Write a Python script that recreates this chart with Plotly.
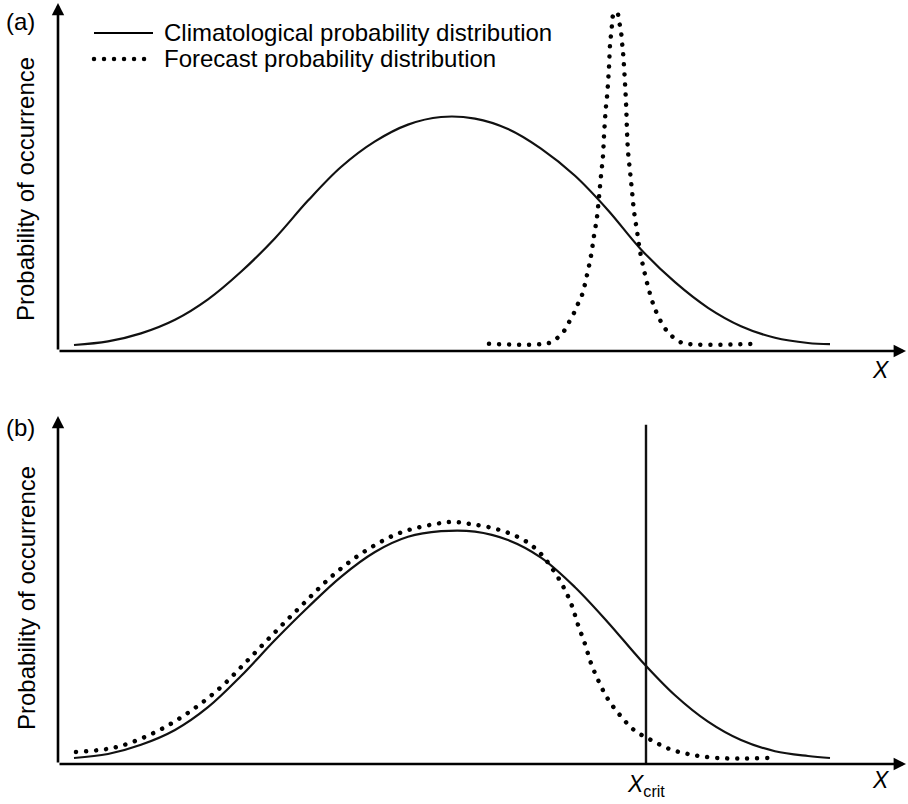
import plotly.graph_objects as go

# ---- data (x in arbitrary units along the variable axis, y in relative probability) ----
# Panel (a): climatological distribution
clim_a_x = [1.6, 5.0, 8.3, 11.7, 15.0, 18.3, 21.7, 25.0, 28.3, 31.7, 35.0, 38.3,
            41.7, 45.0, 48.3, 51.7, 55.0, 58.3, 61.7, 65.0, 68.3, 71.7, 75.0, 77.2]
clim_a_y = [1.5, 2.4, 4.4, 7.8, 12.9, 19.8, 28.2, 37.6, 46.0, 52.4, 56.6, 58.5,
            58.1, 55.5, 50.6, 43.8, 35.2, 25.4, 17.2, 10.8, 6.2, 3.3, 2.0, 1.7]

# Panel (a): sharp forecast distribution
fcst_a_x = [43.1, 49.1, 49.9, 50.6, 51.1, 51.6, 52.0, 52.4, 52.9, 53.3, 53.6, 53.9, 54.1,
            54.3, 54.5, 54.6, 54.8, 54.9, 55.1, 55.2, 55.3, 55.4, 55.5, 55.9, 56.1, 56.3,
            56.4, 56.5, 56.8, 56.9, 57.0, 57.2, 57.4, 57.6, 57.9, 58.2, 58.6, 59.1, 59.7,
            60.6, 61.2, 62.0, 62.9, 69.9]
fcst_a_y = [1.8, 2.0, 3.2, 5.0, 7.2, 9.5, 11.8, 14.0, 19.0, 23.8, 28.8, 33.5, 38.5,
            43.8, 48.8, 53.8, 61.2, 63.5, 71.0, 76.5, 79.0, 81.5, 83.8, 84.8, 82.5, 79.8,
            77.2, 74.8, 62.2, 55.0, 50.0, 45.0, 40.0, 35.0, 30.0, 25.0, 20.2, 15.2, 10.5,
            6.0, 4.2, 2.5, 1.8, 1.8]

# Panel (b): climatological distribution
clim_b_x = [1.6, 5.0, 8.3, 11.7, 15.0, 18.3, 21.7, 25.0, 28.3, 31.7, 35.0, 38.3,
            41.7, 45.0, 48.3, 51.7, 55.0, 58.3, 61.7, 65.0, 68.3, 71.7, 75.0, 77.2]
clim_b_y = [1.5, 2.5, 4.8, 8.5, 14.2, 22.0, 31.0, 39.2, 46.8, 53.0, 56.8, 58.2,
            58.1, 56.0, 51.6, 44.2, 35.4, 25.9, 17.2, 10.6, 6.0, 3.2, 2.0, 1.5]

# Panel (b): broad forecast distribution
fcst_b_x = [1.8, 5.8, 9.6, 13.0, 16.2, 19.0, 21.8, 24.6, 27.5, 30.7, 34.2, 38.2, 39.7,
            41.2, 43.1, 45.0, 46.9, 48.3, 49.6, 50.6, 51.4, 52.0, 52.7, 53.3, 54.1, 55.0,
            56.2, 57.6, 59.3, 61.1, 63.0, 66.0, 71.0]
fcst_b_y = [3.0, 4.2, 7.8, 12.8, 19.0, 26.0, 33.2, 40.2, 47.2, 53.2, 57.8, 60.2, 60.5,
            60.0, 59.2, 57.8, 55.5, 52.5, 48.2, 44.0, 39.5, 34.8, 30.0, 25.2, 20.5, 16.2,
            12.2, 8.5, 6.0, 3.8, 2.5, 1.5, 1.5]

# Critical threshold
x_crit = 58.8
crit_top = 84.8

# axis extents (arrow tips)
x_tip = 84.8
y_tip = 87.0

W, H = 908, 804
FONT = "Liberation Sans, Arial, Helvetica, sans-serif"
INK = "#111111"
DOT = "4px,6px"

fig = go.Figure()

fig.add_trace(go.Scatter(x=clim_a_x, y=clim_a_y, xaxis="x", yaxis="y", mode="lines",
                         line=dict(color=INK, width=2.2, shape="spline"), hoverinfo="skip"))
fig.add_trace(go.Scatter(x=fcst_a_x, y=fcst_a_y, xaxis="x", yaxis="y", mode="lines",
                         line=dict(color="black", width=4.5, shape="spline", dash=DOT),
                         hoverinfo="skip"))
fig.add_trace(go.Scatter(x=clim_b_x, y=clim_b_y, xaxis="x2", yaxis="y2", mode="lines",
                         line=dict(color=INK, width=2.2, shape="spline"), hoverinfo="skip"))
fig.add_trace(go.Scatter(x=fcst_b_x, y=fcst_b_y, xaxis="x2", yaxis="y2", mode="lines",
                         line=dict(color="black", width=4.5, shape="spline", dash=DOT),
                         hoverinfo="skip"))
fig.add_trace(go.Scatter(x=[x_crit, x_crit], y=[0, crit_top], xaxis="x2", yaxis="y2",
                         mode="lines", line=dict(color=INK, width=2.4), hoverinfo="skip"))

x_dom = [58 / W, 1.0]
x_rng = [0, (W - 58) / 10]
y_rng = [0, 87.75]

hidden = dict(showgrid=False, zeroline=False, showline=False, showticklabels=False,
              ticks="", fixedrange=True)
fig.update_layout(
    width=W, height=H, margin=dict(l=0, r=0, t=0, b=0),
    paper_bgcolor="white", plot_bgcolor="white", showlegend=False,
    font=dict(family=FONT, color="black"),
    xaxis=dict(domain=x_dom, range=x_rng, anchor="y", **hidden),
    yaxis=dict(domain=[1 - 351 / H, 1.0], range=y_rng, anchor="x", **hidden),
    xaxis2=dict(domain=x_dom, range=x_rng, anchor="y2", **hidden),
    yaxis2=dict(domain=[1 - 764 / H, 1 - 413 / H], range=y_rng, anchor="x2", **hidden),
)

# axes drawn as arrows from the origin
arrow = dict(text="", showarrow=True, arrowhead=2, arrowsize=0.95, arrowwidth=2.6,
             arrowcolor="black", standoff=0, startstandoff=0)
for xr, yr in (("x", "y"), ("x2", "y2")):
    fig.add_annotation(x=x_tip, y=0, ax=0, ay=0, xref=xr, yref=yr, axref=xr, ayref=yr, **arrow)
    fig.add_annotation(x=0, y=y_tip, ax=0, ay=0, xref=xr, yref=yr, axref=xr, ayref=yr, **arrow)

txt = dict(showarrow=False, font=dict(family=FONT, size=24, color="black"))
ital = dict(showarrow=False, font=dict(family=FONT, size=23, color="black"))

# panel letters
fig.add_annotation(x=4 / W, y=1 - 21 / H, xref="paper", yref="paper", text="(a)",
                   xanchor="left", yanchor="middle", **txt)
fig.add_annotation(x=4 / W, y=1 - 427 / H, xref="paper", yref="paper", text="(b)",
                   xanchor="left", yanchor="middle", **txt)

# y-axis titles
for yc in (1 - 189 / H, 1 - 598 / H):
    fig.add_annotation(x=26 / W, y=yc, xref="paper", yref="paper",
                       text="Probability of occurrence", textangle=-90,
                       xanchor="center", yanchor="middle", **txt)

# x-axis labels
fig.add_annotation(x=82.3, y=1 - 370 / H, xref="x", yref="paper", text="<i>X</i>",
                   xanchor="center", yanchor="middle", **ital)
fig.add_annotation(x=82.3, y=1 - 780 / H, xref="x2", yref="paper", text="<i>X</i>",
                   xanchor="center", yanchor="middle", **ital)
fig.add_annotation(x=x_crit, y=1 - 769 / H, xref="x2", yref="paper",
                   text="<i>X</i><sub>crit</sub>", xanchor="center", yanchor="top", **ital)

# legend
leg_x0, leg_x1, leg_tx = 94 / W, 153 / W, 162 / W
for yy, dash, wd, label in ((1 - 33 / H, "solid", 2.2, "Climatological probability distribution"),
                            (1 - 59 / H, DOT, 4.5, "Forecast probability distribution")):
    fig.add_shape(type="line", xref="paper", yref="paper", x0=leg_x0, x1=leg_x1, y0=yy, y1=yy,
                  line=dict(color="black", width=wd, dash=dash))
    fig.add_annotation(x=leg_tx, y=yy, xref="paper", yref="paper", text=label,
                       xanchor="left", yanchor="middle", **txt)

# round the dash caps so the dotted lines render as round dots
post = """
var gd = document.getElementById('{plot_id}');
function roundDots() {
  gd.querySelectorAll('path').forEach(function (p) {
    var d = p.style.strokeDasharray || p.getAttribute('stroke-dasharray') || '';
    if (d.replace(/\\s/g, '') === '4px,6px') {
      p.style.strokeLinecap = 'round';
      p.style.strokeDasharray = '0.01px, 10px';
    }
  });
}
roundDots();
gd.on('plotly_afterplot', roundDots);
"""

fig.write_html("out.html", post_script=post, config={"displayModeBar": False})
